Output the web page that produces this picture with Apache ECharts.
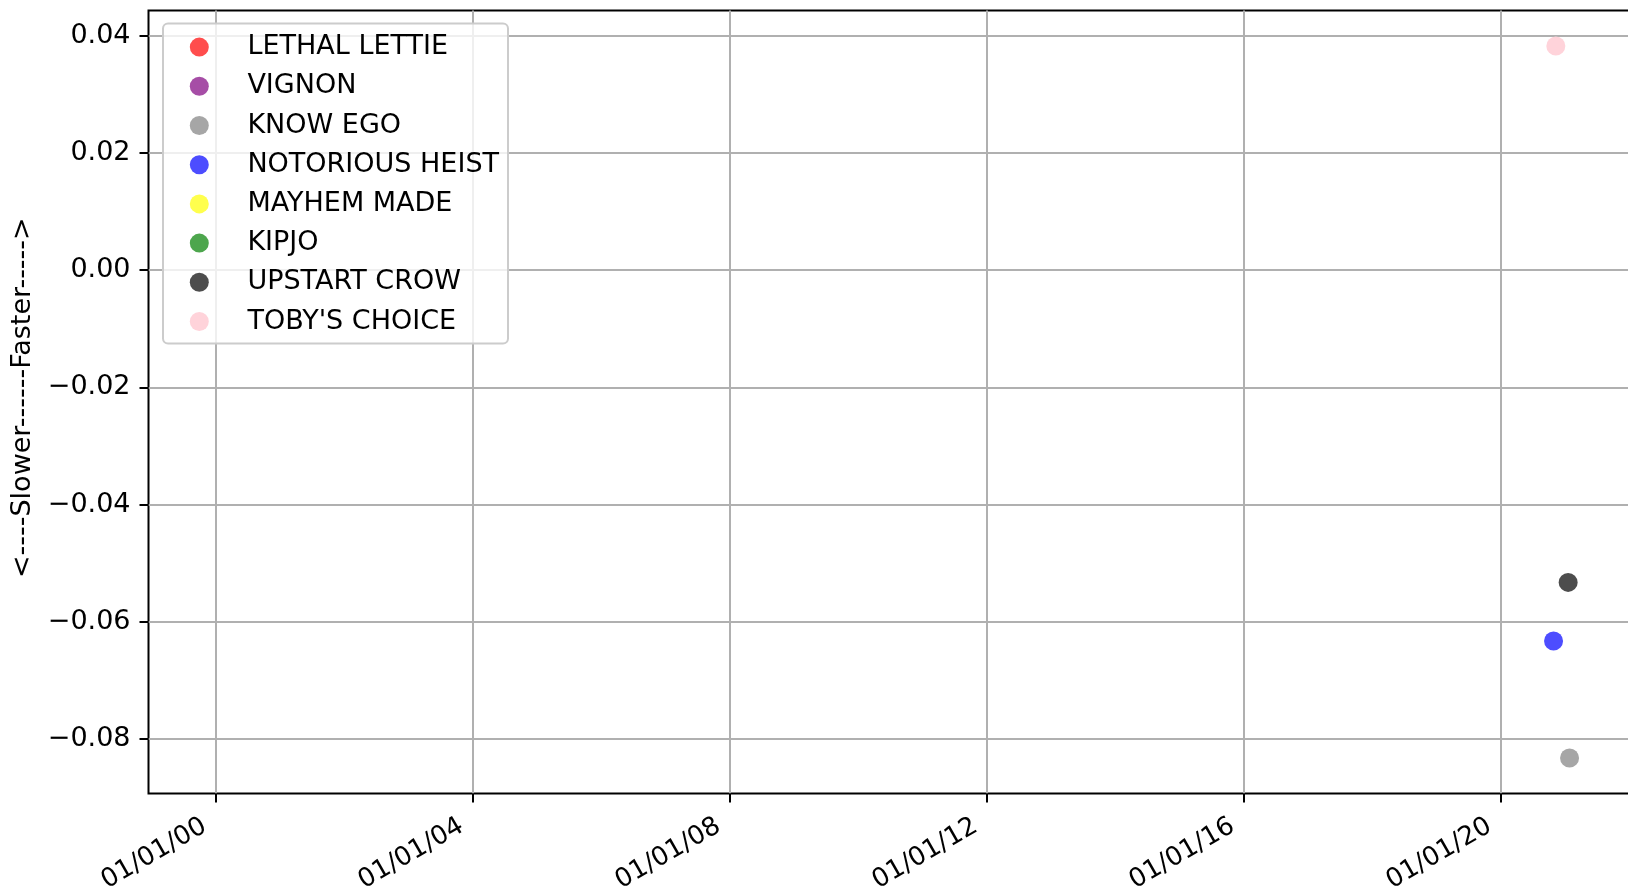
<!DOCTYPE html>
<html>
<head>
<meta charset="utf-8">
<script src="https://cdn.jsdelivr.net/npm/echarts@6/dist/echarts.min.js"></script>
<style>
  html, body { margin: 0; padding: 0; background: #ffffff; overflow: hidden; }
  #chart { width: 1628px; height: 891px; }
</style>
</head>
<body>
<div id="chart"></div>
<script>
// ---- data ----
const seriesNames = ['LETHAL LETTIE', 'VIGNON', 'KNOW EGO', 'NOTORIOUS HEIST', 'MAYHEM MADE', 'KIPJO', 'UPSTART CROW', "TOBY'S CHOICE"];
const lethalLettie = [];
const vignon = [];
const knowEgo = [['2021-01-25', -0.0833]];
const notoriousHeist = [['2020-10-26', -0.0633]];
const mayhemMade = [];
const kipjo = [];
const upstartCrow = [['2021-01-17', -0.0533]];
const tobysChoice = [['2020-11-08', 0.0383]];
const yTickValues = [-0.08, -0.06, -0.04, -0.02, 0.00, 0.02, 0.04];
const xTickDates = ['2000-01-01', '2004-01-01', '2008-01-01', '2012-01-01', '2016-01-01', '2020-01-01'];
const xTickLabels = ['01/01/00', '01/01/04', '01/01/08', '01/01/12', '01/01/16', '01/01/20'];
const yAxisTitle = '<----Slower------Faster----->';
const xRange = ['1998-12-13', '2022-02-13'];
const yRange = [-0.08933, 0.04437];

// ---- styles ----
const seriesColors = ['#ff4d4d', '#a64da6', '#a6a6a6', '#4d4dff', '#ffff4d', '#4da64d', '#4d4d4d', '#ffd3da'];
const FONT = 'DejaVu Sans';
const FS = 27;

const ts = s => new Date(s + 'T00:00:00Z').getTime();
const seriesData = [lethalLettie, vignon, knowEgo, notoriousHeist, mayhemMade, kipjo, upstartCrow, tobysChoice];
const xTickTs = xTickDates.map(ts);

const chart = echarts.init(document.getElementById('chart'), null, { renderer: 'canvas' });

const option = {
  backgroundColor: '#ffffff',
  animation: false,
  textStyle: { fontFamily: FONT },
  grid: {
    left: 148.5, top: 10.4, width: 1488.6, height: 783,
    show: true, borderColor: '#000000', borderWidth: 2, backgroundColor: 'transparent',
    containLabel: false,
    outerBoundsMode: 'none'
  },
  legend: {
    orient: 'vertical',
    left: 163, top: 23.5,
    padding: [8.6, 9, 7, 26.8],
    itemGap: 9.2,
    itemWidth: 86.2, itemHeight: 19,
    icon: 'circle',
    backgroundColor: 'rgba(255,255,255,0.8)',
    borderColor: '#cccccc', borderWidth: 2, borderRadius: 5,
    textStyle: { fontFamily: FONT, fontSize: FS, color: '#000', lineHeight: 30 },
    data: seriesNames
  },
  xAxis: {
    type: 'value',
    min: ts(xRange[0]), max: ts(xRange[1]),
    axisLine: { show: false, onZero: false },
    axisTick: { show: true, length: 9, lineStyle: { color: '#000', width: 2 }, customValues: xTickTs },
    splitLine: { show: true, lineStyle: { color: '#b0b0b0', width: 2 } },
    axisLabel: {
      customValues: xTickTs,
      rotate: 30,
      margin: 24.5,
      fontFamily: FONT, fontSize: 26, color: '#000',
      padding: [0, 13, 0, 0],
      formatter: function (v) {
        let best = 0, bd = Infinity;
        xTickTs.forEach((t, i) => { const d = Math.abs(t - v); if (d < bd) { bd = d; best = i; } });
        return xTickLabels[best];
      }
    }
  },
  yAxis: {
    type: 'value',
    min: yRange[0], max: yRange[1],
    name: yAxisTitle,
    nameLocation: 'middle',
    nameGap: 106,
    nameTextStyle: { fontFamily: FONT, fontSize: FS, color: '#000', padding: [0, 0, 0, 8.4] },
    axisLine: { show: false, onZero: false },
    axisTick: { show: true, length: 9, lineStyle: { color: '#000', width: 2 }, customValues: yTickValues },
    splitLine: { show: true, lineStyle: { color: '#b0b0b0', width: 2 } },
    axisLabel: {
      customValues: yTickValues,
      margin: 18,
      padding: [3, 0, 0, 0],
      fontFamily: FONT, fontSize: FS, color: '#000',
      formatter: function (v) {
        const r = Math.round(v * 100) / 100;
        return (r < 0 ? '\u2212' : '') + Math.abs(r).toFixed(2);
      }
    }
  },
  series: seriesNames.map((name, i) => ({
    name: name,
    type: 'scatter',
    symbol: 'circle',
    symbolSize: 19,
    itemStyle: { color: seriesColors[i], opacity: 1 },
    data: seriesData[i].map(d => [ts(d[0]), d[1]])
  }))
};

chart.setOption(option);
</script>
</body>
</html>
